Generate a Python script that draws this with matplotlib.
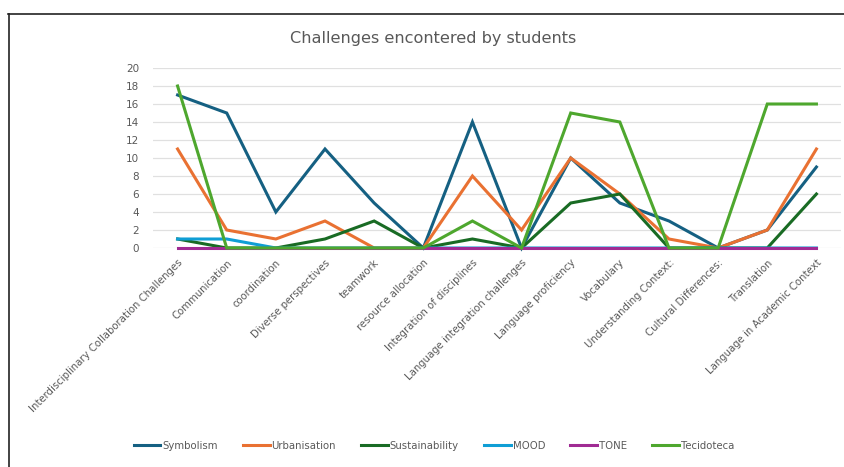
import numpy as np
import matplotlib.pyplot as plt
from matplotlib.lines import Line2D

categories = [
    'Interdisciplinary Collaboration Challenges', 'Communication', 'coordination',
    'Diverse perspectives', 'teamwork', 'resource allocation',
    'Integration of disciplines', 'Language integration challenges',
    'Language proficiency', 'Vocabulary', 'Understanding Context:',
    'Cultural Differences:', 'Translation', 'Language in Academic Context',
]

symbolism = [17, 15, 4, 11, 5, 0, 14, 0, 10, 5, 3, 0, 2, 9]
urbanisation = [11, 2, 1, 3, 0, 0, 8, 2, 10, 6, 1, 0, 2, 11]
sustainability = [1, 0, 0, 1, 3, 0, 1, 0, 5, 6, 0, 0, 0, 6]
mood = [1, 1, 0, 0, 0, 0, 0, 0, 0, 0, 0, 0, 0, 0]
tone = [0, 0, 0, 0, 0, 0, 0, 0, 0, 0, 0, 0, 0, 0]
tecidoteca = [18, 0, 0, 0, 0, 0, 3, 0, 15, 14, 0, 0, 16, 16]

series_names = ['Symbolism', 'Urbanisation', 'Sustainability', 'MOOD', 'TONE', 'Tecidoteca']
series_data = [symbolism, urbanisation, sustainability, mood, tone, tecidoteca]
colors = ['#156082', '#E97132', '#196B24', '#0F9ED5', '#A02B93', '#4EA72E']

fig = plt.figure(figsize=(8.44, 4.67), dpi=100)
W, H = 844, 467
ax = fig.add_axes([153 / W, 1 - 248 / H, (841 - 153) / W, 180 / H])

x = np.arange(len(categories))
# later series sit on top, like Excel
for i in range(len(series_data)):
    ax.plot(x, series_data[i], color=colors[i], lw=2.2, solid_joinstyle='miter',
            zorder=3 + i, clip_on=False)

ax.set_xlim(-0.5, len(categories) - 0.5)
ax.set_ylim(0, 20)
ax.set_yticks(range(0, 21, 2))
ax.yaxis.grid(True, color='#e0e0e0', lw=0.9)
ax.set_axisbelow(True)
for s in ax.spines.values():
    s.set_visible(False)
ax.tick_params(axis='both', length=0, colors='#595959', labelsize=7.5)
ax.tick_params(axis='y', pad=10)
ax.set_xticks(x)
ax.set_xticklabels(categories, rotation=45, ha='right', va='top',
                   rotation_mode='anchor', fontsize=7.3, color='#595959')
ax.tick_params(axis='x', pad=7)

fig.text(433 / W, 1 - 38 / H, 'Challenges encontered by students', ha='center',
         va='center', fontsize=11.6, color='#595959')

handles = [Line2D([0], [0], color=c, lw=2.2) for c in colors]
fig.legend(handles, series_names, loc='center', bbox_to_anchor=(434 / W, 1 - 446 / H),
           ncol=6, frameon=False, fontsize=7.3, handlelength=2.6, handletextpad=0.2,
           columnspacing=2.5, labelcolor='#595959')

# chart frame (left and top edges visible)
fig.add_artist(Line2D([8.5 / W, 8.5 / W], [0, 1 - 14 / H], color='#222222', lw=1.2))
fig.add_artist(Line2D([8 / W, 1], [1 - 14 / H, 1 - 14 / H], color='#222222', lw=1.2))

fig.savefig('out.png', dpi=100)
